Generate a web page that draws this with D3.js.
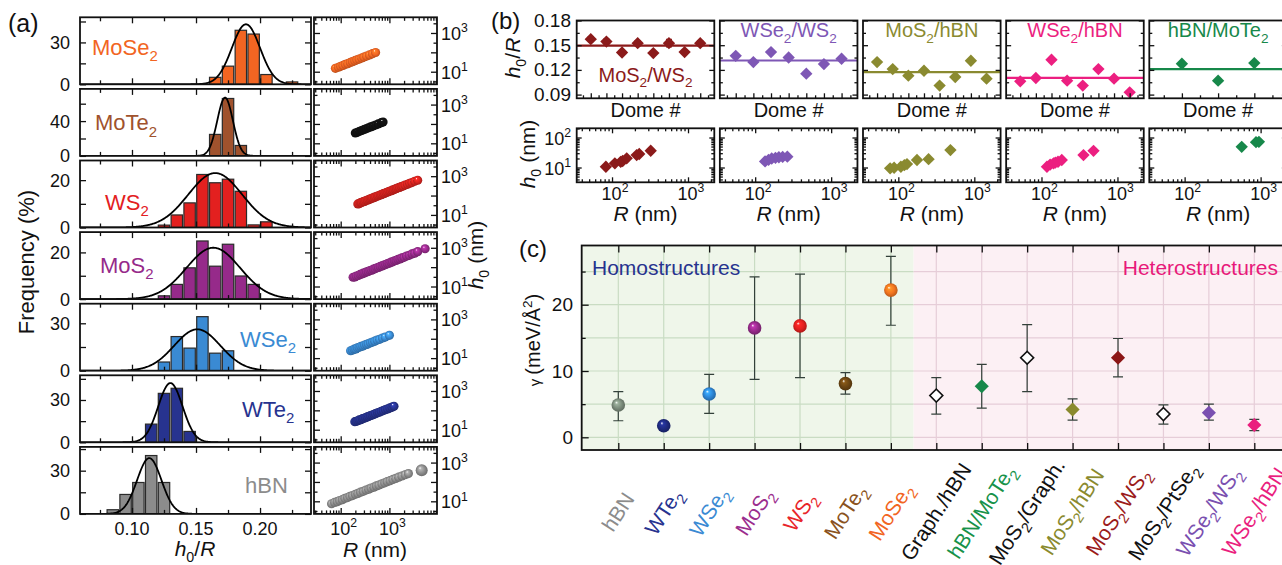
<!DOCTYPE html>
<html><head><meta charset="utf-8">
<script src="https://cdn.jsdelivr.net/npm/d3@7"></script>
<style>
body{margin:0;background:#fff;}
svg{display:block;font-family:"Liberation Sans",Arial,sans-serif;}
</style></head><body>
<svg id="fig" width="1282" height="565"></svg>
<script>
// ===== (a) h0/R histograms with Gaussian fits =====
const histNames  = ["MoSe_2","MoTe_2","WS_2","MoS_2","WSe_2","WTe_2","hBN"];
const histColors = ["#f26522","#a0522d","#e3201f","#962a8a","#3a8ad3","#27338f","#8c8c8c"];
const histBinWidth = 0.01;
const binsMoSe2 = [0.16,0.17,0.18,0.19,0.20,0.22];
const freqMoSe2 = [5,13,38.7,36,7,1.7];
const binsMoTe2 = [0.16,0.17,0.18];
const freqMoTe2 = [24.7,66,12];
const binsWS2 = [0.12,0.13,0.14,0.15,0.16,0.17,0.18,0.19,0.20];
const freqWS2 = [1,5.3,10.4,22.4,18.9,20.4,15.3,1.1,2.4];
const binsMoS2 = [0.12,0.13,0.14,0.15,0.16,0.17,0.18,0.19];
const freqMoS2 = [1.4,6.3,13.4,24.9,14.1,23.5,9.9,6.3];
const binsWSe2 = [0.12,0.13,0.14,0.15,0.16,0.17];
const freqWSe2 = [5.5,21.6,14.3,34.2,11.1,12.6];
const binsWTe2 = [0.11,0.12,0.13,0.14];
const freqWTe2 = [12.9,34.7,38.3,7.7];
const binsHBN = [0.08,0.09,0.10,0.11,0.12];
const freqHBN = [2.9,13.5,21.8,40.5,21.8];
// Gaussian fit parameters (centre, width, peak height in %)
const fitCenter = [0.189,0.1727,0.165,0.1635,0.151,0.130,0.1135];
const fitSigma  = [0.011,0.0061,0.021,0.021,0.018,0.0095,0.0095];
const fitPeak   = [43,67,23,22,26.2,42,38.7];
const histYMax    = [48,77,28.3,28.7,42.4,47.5,46.5];
const histYStep   = [15,20,10,10,15,15,15];
const histYLabels = [[0,30],[0,40],[0,20],[0,20],[0,30],[0,30],[0,30]];
const histXLabels = [0.10,0.15,0.20];

// ===== (a) h0 versus R =====
const scatterColors = ["#f26522","#111111","#d8231f","#962a8a","#3a8ad3","#27338f","#8c8c8c"];
const rMoSe2  = [78,90,100,112,125,140,158,175,195,215,240,270,300,340,390,450,520];
const h0MoSe2 = [15,17,19,21,24,26,30,33,37,41,45,51,57,64,74,85,98];
const rMoTe2  = [200,220,245,270,300,330,370,410,460,520,590,680,740];
const h0MoTe2 = [34,37,42,46,51,56,63,70,78,88,100,116,126];
const rWS2  = [225,240,255,270,290,310,330,355,380,405,430,460,495,530,570,610,655,700,750,805,860,925,990,1060,1140,1220,1310,1400,1500,1620,1750,1900,2100,2350,2600,2900,3300,3800];
const h0WS2 = [37,38,43,44,48,50,55,58,63,66,72,75,82,86,95,100,108,114,125,131,143,151,165,172,190,198,218,228,250,262,290,308,348,380,432,470,548,615];
const rMoS2  = [180,195,210,230,250,270,290,315,340,370,400,435,470,510,555,600,650,710,770,840,910,990,1080,1170,1270,1380,1500,1650,1800,2000,2250,2550,2900,3300,3800,5400];
const h0MoS2 = [30,31,35,37,42,44,49,51,57,60,67,70,79,83,93,97,109,115,129,136,152,160,180,189,212,222,250,266,300,322,374,410,482,530,630,890];
const rWSe2  = [160,175,190,205,220,240,260,285,310,340,370,410,450,500,560,630,720,820,1000];
const h0WSe2 = [24,26,29,30,34,36,40,42,47,51,55,62,67,75,85,93,109,122,150];
const rWTe2  = [195,210,225,240,260,280,300,325,350,380,410,445,480,520,570,620,680,750,830,920,1020,1130,1240];
const h0WTe2 = [26,27,29,32,33,37,39,42,46,49,54,57,63,67,75,80,89,97,109,119,134,146,162];
const rHBN  = [65,75,85,95,108,122,138,155,175,200,225,255,290,330,375,420,480,540,610,700,800,900,1030,1180,1350,1550,1800,2100,2450,4600];
const h0HBN = [7.5,8.8,9.6,11,12.2,14.3,15.6,18,19.8,23,25.5,29.5,32.8,38,42.5,48.5,54,62,69,80,90,103,116,135,152,176,203,236,270,400];

// ===== (b) heterostructure domes =====
const heteroNames  = ["MoS_2/WS_2","WSe_2/WS_2","MoS_2/hBN","WSe_2/hBN","hBN/MoTe_2"];
const heteroColors = ["#8b1a1a","#7e57b5","#8a8a30","#ec1f80","#17884a"];
const ratioMoS2WS2  = [0.1573,0.1544,0.1411,0.1525,0.1404,0.1525,0.1416,0.1525];
const errMoS2WS2    = [0.003,0.003,0.002,0.003,0.002,0.0045,0.002,0.003];
const ratioWSe2WS2  = [0.1371,0.1295,0.1416,0.1351,0.1154,0.1271,0.1335];
const ratioMoS2hBN  = [0.1295,0.1210,0.1130,0.1190,0.1009,0.1114,0.1311,0.1093];
const ratioWSe2hBN  = [0.1061,0.1102,0.1323,0.1069,0.1009,0.1210,0.1093,0.0928];
const ratioHBNMoTe2 = [0.1275,0.1069,0.1283];
const meanRatio = [0.1496,0.1314,0.1174,0.1102,0.1210];
const ratioTicks = [0.09,0.12,0.15,0.18];
const rHMoS2WS2  = [83,109,130,138,156,211,228,323];
const hHMoS2WS2  = [10.6,13.8,15.5,16.5,20.2,26,28.2,36.3];
const rHWSe2WS2  = [135,150,165,185,205,230,265];
const hHWSe2WS2  = [16,18,20,21,22,22.5,23];
const rHMoS2hBN  = [78,88,108,120,130,176,250,485];
const hHMoS2hBN  = [9.4,9.8,10.6,12,13,17.8,19,38];
const rHWSe2hBN  = [118,130,144,152,165,185,357,484];
const hHWSe2hBN  = [10.6,12.5,13.8,14.5,15.6,17.8,26,36];
const rHHBNMoTe2 = [564,870,950];
const hHHBNMoTe2 = [49,70,72];

// ===== (c) adhesion energy =====
const gammaCategories = ["hBN","WTe_2","WSe_2","MoS_2","WS_2","MoTe_2","MoSe_2","Graph./hBN","hBN/MoTe_2","MoS_2/Graph.","MoS_2/hBN","MoS_2/WS_2","MoS_2/PtSe_2","WSe_2/WS_2","WSe_2/hBN"];
const gammaValue = [4.87,1.75,6.53,16.5,16.8,8.1,22.2,6.3,7.7,12.0,4.2,12.0,3.5,3.7,1.85];
const gammaLow   = [2.5,1.4,3.6,8.75,9.0,6.5,16.9,3.5,4.4,6.9,2.6,9.1,2.0,2.6,1.0];
const gammaHigh  = [6.9,2.1,9.5,24.2,24.6,9.75,27.3,9.0,11.0,17.0,5.8,14.9,4.9,5.0,2.7];
const gammaMarker = ["sphere","sphere","sphere","sphere","sphere","sphere","sphere","open","filled","open","filled","filled","open","filled","filled"];
const gammaColors = ["#7b8b7b","#1e2a7e","#2d86d6","#962a8a","#e3201f","#6b4512","#f2741f","#000","#17884a","#000","#8a8a2e","#8c1616","#000","#7a50b0","#ea1e7e"];
const gammaLabelColors = ["#8c8c8c","#27338f","#3a8ad3","#9b2d8e","#e8262a","#8a5220","#f26522","#111","#17924a","#111","#8a8a2e","#9b1b1b","#111","#7a50b0","#ea1e7e"];
const gammaTicks = [0,10,20];

// ---------- helpers ----------
const svg = d3.select('#fig');
const defs = svg.append('defs');
let gradN = 0;
function sphereFill(color){
  const id = 'sph' + (gradN++);
  const c = d3.color(color);
  const g = defs.append('radialGradient').attr('id', id)
    .attr('cx','50%').attr('cy','50%').attr('r','55%').attr('fx','35%').attr('fy','30%');
  g.append('stop').attr('offset','0%').attr('stop-color','#ffffff');
  g.append('stop').attr('offset','20%').attr('stop-color', c.brighter(0.7).formatHex());
  g.append('stop').attr('offset','60%').attr('stop-color', color);
  g.append('stop').attr('offset','100%').attr('stop-color', c.darker(0.9).formatHex());
  return `url(#${id})`;
}
// "_x" subscript, "^x" superscript, "~" toggles italic
function rich(sel, str, fs){
  let italic = false, buf = '', shift = 0;
  const flush = () => {
    if (buf) {
      sel.append('tspan').attr('dy', -shift).attr('font-size', fs)
        .attr('font-style', italic ? 'italic' : null).text(buf);
      shift = 0; buf = '';
    }
  };
  for (let i = 0; i < str.length; i++) {
    const c = str[i];
    if (c === '~') { flush(); italic = !italic; continue; }
    if ((c === '_' || c === '^') && i + 1 < str.length) {
      flush();
      const target = c === '_' ? 0.28 * fs : -0.42 * fs;
      sel.append('tspan').attr('dy', target - shift).attr('font-size', fs * 0.68)
        .attr('font-style', italic ? 'italic' : null).text(str[i + 1]);
      shift = target; i++; continue;
    }
    buf += c;
  }
  flush();
  return sel;
}
function label(g, x, y, str, fs, color, anchor, rot){
  const t = g.append('text').attr('fill', color || '#111').attr('text-anchor', anchor || 'start');
  if (rot) t.attr('transform', `translate(${x},${y}) rotate(${rot})`);
  else t.attr('x', x).attr('y', y);
  return rich(t, str, fs);
}
function ticks(g, scale, orient, pos, values, len){
  const mk = {bottom: d3.axisBottom, top: d3.axisTop, left: d3.axisLeft, right: d3.axisRight}[orient];
  const ax = mk(scale).tickValues(values).tickSize(-len).tickFormat('');
  const tr = (orient === 'bottom' || orient === 'top') ? `translate(0,${pos})` : `translate(${pos},0)`;
  const a = g.append('g').attr('transform', tr).call(ax);
  a.select('.domain').remove();
  a.selectAll('line').attr('stroke', '#111').attr('stroke-width', 1.3);
}
function frame(g, x, y, w, h){
  g.append('rect').attr('x', x).attr('y', y).attr('width', w).attr('height', h)
    .attr('fill', 'none').attr('stroke', '#111').attr('stroke-width', 1.8);
}
function clip(id, x, y, w, h){
  defs.append('clipPath').attr('id', id).append('rect')
    .attr('x', x).attr('y', y).attr('width', w).attr('height', h);
  return `url(#${id})`;
}
const diamond = s => d3.symbol(d3.symbolSquare, s);

// ---------- panel (a) ----------
const gA = svg.append('g');
label(gA, 8, 32, '(a)', 25, '#111');
const histBins = [binsMoSe2, binsMoTe2, binsWS2, binsMoS2, binsWSe2, binsWTe2, binsHBN];
const histFreq = [freqMoSe2, freqMoTe2, freqWS2, freqMoS2, freqWSe2, freqWTe2, freqHBN];
const scatR = [rMoSe2, rMoTe2, rWS2, rMoS2, rWSe2, rWTe2, rHBN];
const scatH = [h0MoSe2, h0MoTe2, h0WS2, h0MoS2, h0WSe2, h0WTe2, h0HBN];
const rowTop = i => 17.3 + 71.6 * i, rowH = 67;
const hx = d3.scaleLinear().domain([0.0594, 0.2398]).range([80, 311]);
const sx = d3.scaleLog().domain([Math.pow(10, 1.452), Math.pow(10, 3.977)]).range([314, 437]);
const histLabelPos = [[92,37.7],[95,41.5],[105,49.5],[100,40.6],[240,43],[242,41.4],[245,45.8]];
const xMinor = [30,40,50,60,70,80,90,200,300,400,500,600,700,800,900,2000,3000,4000,5000,6000,7000,8000,9000];

histNames.forEach((name, i) => {
  const top = rowTop(i), bot = top + rowH;
  const y = d3.scaleLinear().domain([0, histYMax[i]]).range([bot, top]);
  const pg = gA.append('g').attr('clip-path', clip('hc' + i, 80, top, 231, rowH));
  pg.selectAll('rect').data(d3.zip(histBins[i], histFreq[i])).join('rect')
    .attr('x', d => hx(d[0]) + 0.7)
    .attr('width', d => hx(d[0] + histBinWidth) - hx(d[0]) - 1.4)
    .attr('y', d => y(d[1])).attr('height', d => bot - y(d[1]))
    .attr('fill', histColors[i]).attr('stroke', '#2a2a2a').attr('stroke-width', 1.2);
  const xs = d3.range(0.055, 0.245, 0.0005);
  pg.append('path')
    .attr('d', d3.line().x(v => hx(v))
      .y(v => y(fitPeak[i] * Math.exp(-0.5 * Math.pow((v - fitCenter[i]) / fitSigma[i], 2))))(xs))
    .attr('fill', 'none').attr('stroke', '#000').attr('stroke-width', 1.8);
  const xMaj = [0.10, 0.15, 0.20], xMin = [0.075, 0.125, 0.175, 0.225];
  ticks(gA, hx, 'bottom', bot, xMaj, 6); ticks(gA, hx, 'bottom', bot, xMin, 4);
  ticks(gA, hx, 'top', top, xMaj, 6); ticks(gA, hx, 'top', top, xMin, 4);
  const yv = d3.range(0, histYMax[i], histYStep[i]);
  ticks(gA, y, 'left', 80, yv, 6); ticks(gA, y, 'right', 311, yv, 6);
  frame(gA, 80, top, 231, rowH);
  histYLabels[i].forEach(v => label(gA, 70, y(v) + 6.5, String(v), 18, '#111', 'end'));
  label(gA, histLabelPos[i][0], top + histLabelPos[i][1], name, 22, histColors[i]);

  // h0 vs R
  const sy = d3.scaleLog().domain([Math.pow(10, 0.35), Math.pow(10, 3.81)]).range([bot, top]);
  const sg = gA.append('g').attr('clip-path', clip('sc' + i, 314, top, 123, rowH));
  const fill = sphereFill(scatterColors[i]);
  sg.selectAll('circle').data(d3.zip(scatR[i], scatH[i])).join('circle')
    .attr('cx', d => sx(d[0])).attr('cy', d => sy(d[1]))
    .attr('r', (d, k) => (i === 6 && k === scatR[i].length - 1) ? 6 : 4.6)
    .attr('fill', fill);
  ticks(gA, sx, 'bottom', bot, [100, 1000], 6); ticks(gA, sx, 'bottom', bot, xMinor, 3.5);
  ticks(gA, sx, 'top', top, [100, 1000], 6); ticks(gA, sx, 'top', top, xMinor, 3.5);
  const yMaj = [10, 100, 1000], yMin = [Math.pow(10, 0.5), Math.pow(10, 1.5), Math.pow(10, 2.5), Math.pow(10, 3.5)];
  ticks(gA, sy, 'left', 314, yMaj, 6); ticks(gA, sy, 'left', 314, yMin, 3.5);
  ticks(gA, sy, 'right', 437, yMaj, 6); ticks(gA, sy, 'right', 437, yMin, 3.5);
  frame(gA, 314, top, 123, rowH);
  label(gA, 441, sy(1000) + 7, '10^3', 18, '#111');
  label(gA, 441, sy(10) + 7, '10^1', 18, '#111');
});
histXLabels.forEach(v => label(gA, hx(v), 535, v.toFixed(2), 18, '#111', 'middle'));
[100, 1000].forEach((v, k) => label(gA, sx(v) + 3, 535, k ? '10^3' : '10^2', 18, '#111', 'middle'));
label(gA, 195, 556, '~h~_0/~R~', 21, '#111', 'middle');
label(gA, 375, 557, '~R~ (nm)', 21, '#111', 'middle');
label(gA, 34, 262, 'Frequency (%)', 22, '#111', 'middle', -90);
label(gA, 483, 255, '~h~_0 (nm)', 21, '#111', 'middle', -90);

// ---------- panel (b) ----------
const gB = svg.append('g');
label(gB, 491, 29, '(b)', 24, '#111');
const domeRatios = [ratioMoS2WS2, ratioWSe2WS2, ratioMoS2hBN, ratioWSe2hBN, ratioHBNMoTe2];
const domeErr = [errMoS2WS2, null, null, null, null];
const heteroR = [rHMoS2WS2, rHWSe2WS2, rHMoS2hBN, rHWSe2hBN, rHHBNMoTe2];
const heteroH = [hHMoS2WS2, hHWSe2WS2, hHMoS2hBN, hHWSe2hBN, hHHBNMoTe2];
const bw = 137.6, bTop = 20.5, bBot = 98.3, lTop = 128.3, lBot = 182.3;
const by = d3.scaleLinear().domain([0.0855, 0.18]).range([bBot, bTop]);
const ly = d3.scaleLog().domain([Math.pow(10, 0.507), Math.pow(10, 2.307)]).range([lBot, lTop]);
const bNameY = [81.7, 37, 37, 37, 37];
heteroNames.forEach((name, p) => {
  const left = 576.7 + 143.15 * p, n = domeRatios[p].length;
  const col = heteroColors[p];
  const bx = d3.scaleLinear().domain([0.1, n + 0.9]).range([left, left + bw]);
  const pg = gB.append('g').attr('clip-path', clip('bc' + p, left, bTop, bw, bBot - bTop));
  pg.append('line').attr('x1', left).attr('x2', left + bw)
    .attr('y1', by(meanRatio[p])).attr('y2', by(meanRatio[p]))
    .attr('stroke', col).attr('stroke-width', 2.2);
  const pts = domeRatios[p].map((v, k) => ({d: k + 1, v, e: domeErr[p] ? domeErr[p][k] : 0}));
  pts.filter(q => q.e > 0).forEach(q => {
    const x = bx(q.d);
    pg.append('path').attr('d', `M${x},${by(q.v - q.e)}V${by(q.v + q.e)}M${x - 3},${by(q.v - q.e)}H${x + 3}M${x - 3},${by(q.v + q.e)}H${x + 3}`)
      .attr('stroke', col).attr('stroke-width', 1.2).attr('fill', 'none');
  });
  pg.selectAll('path.m').data(pts).join('path').attr('class', 'm')
    .attr('d', diamond(76))
    .attr('transform', q => `translate(${bx(q.d)},${by(q.v)}) rotate(45)`)
    .attr('fill', col);
  const maj = d3.range(1, n + 1), min = d3.range(0.5, n + 1, 1);
  ticks(gB, bx, 'bottom', bBot, maj, 5); ticks(gB, bx, 'bottom', bBot, min, 3);
  ticks(gB, by, 'left', left, ratioTicks, 5); ticks(gB, by, 'left', left, [0.105, 0.135, 0.165], 3);
  ticks(gB, by, 'right', left + bw, ratioTicks, 5); ticks(gB, by, 'right', left + bw, [0.105, 0.135, 0.165], 3);
  frame(gB, left, bTop, bw, bBot - bTop);
  label(gB, left + bw / 2, bNameY[p], name, 20, col, 'middle');
  label(gB, left + bw / 2, 117, 'Dome #', 20, '#111', 'middle');

  // h0 vs R
  const lx = d3.scaleLog().domain([Math.pow(10, 1.535), Math.pow(10, 3.346)]).range([left, left + bw]);
  const lg = gB.append('g').attr('clip-path', clip('lc' + p, left, lTop, bw, lBot - lTop));
  lg.selectAll('path').data(d3.zip(heteroR[p], heteroH[p])).join('path')
    .attr('d', diamond(76))
    .attr('transform', d => `translate(${lx(d[0])},${ly(d[1])}) rotate(45)`)
    .attr('fill', col);
  const lxMin = [40, 50, 60, 70, 80, 90, 200, 300, 400, 500, 600, 700, 800, 900, 2000];
  ticks(gB, lx, 'bottom', lBot, [100, 1000], 5); ticks(gB, lx, 'bottom', lBot, lxMin, 3);
  ticks(gB, lx, 'top', lTop, [100, 1000], 5); ticks(gB, lx, 'top', lTop, lxMin, 3);
  const lyMin = [4, 5, 6, 7, 8, 9, 20, 30, 40, 50, 60, 70, 80, 90, 200];
  ticks(gB, ly, 'left', left, [10, 100], 5); ticks(gB, ly, 'left', left, lyMin, 3);
  ticks(gB, ly, 'right', left + bw, [10, 100], 5); ticks(gB, ly, 'right', left + bw, lyMin, 3);
  frame(gB, left, lTop, bw, lBot - lTop);
  label(gB, lx(100) + 3, 200, '10^2', 18, '#111', 'middle');
  label(gB, lx(1000) + 3, 200, '10^3', 18, '#111', 'middle');
  label(gB, left + bw / 2, 221, '~R~ (nm)', 21, '#111', 'middle');
  if (p === 0) {
    ratioTicks.forEach(v => label(gB, 571, by(v) + 6.5, v.toFixed(2), 19, '#111', 'end'));
    label(gB, 571, ly(100) + 7, '10^2', 18, '#111', 'end');
    label(gB, 571, ly(10) + 7, '10^1', 18, '#111', 'end');
  }
});
label(gB, 520, 58, '~h~_0/~R~', 21, '#111', 'middle', -90);
label(gB, 535, 154, '~h~_0 (nm)', 21, '#111', 'middle', -90);

// ---------- panel (c) ----------
const gC = svg.append('g');
label(gC, 519, 257, '(c)', 24, '#111');
const cx = d3.scaleLinear().domain([0, 14]).range([618.3, 1254.3]);
const cy = d3.scaleLinear().domain([-1.915, 28.93]).range([450, 245.5]);
const cL = cx(-0.806), cR = cx(14.806), cB = cx(6.5), cT = cy(28.93), cBot = cy(-1.915);
gC.append('rect').attr('x', cL).attr('y', cT).attr('width', cB - cL).attr('height', cBot - cT).attr('fill', '#eff6ea');
gC.append('rect').attr('x', cB).attr('y', cT).attr('width', cR - cB).attr('height', cBot - cT).attr('fill', '#fcf0f4');
const gridY = [0, 5, 10, 15, 20, 25];
[[cL, cB, '#c9dcc3'], [cB, cR, '#e6cdd8']].forEach(([a, b, c]) => {
  gC.selectAll(null).data(gridY).join('line')
    .attr('x1', a).attr('x2', b).attr('y1', d => cy(d)).attr('y2', d => cy(d))
    .attr('stroke', c).attr('stroke-width', 1.2);
});
gC.selectAll(null).data(gammaCategories).join('line')
  .attr('x1', (d, i) => cx(i)).attr('x2', (d, i) => cx(i)).attr('y1', cT).attr('y2', cBot)
  .attr('stroke', (d, i) => i < 7 ? '#c9dcc3' : '#e6cdd8').attr('stroke-width', 1.2);
label(gC, 592, 275, 'Homostructures', 21, '#27338f');
label(gC, 1278, 275, 'Heterostructures', 21, '#e8197a', 'end');
const idx = d3.range(gammaCategories.length);
ticks(gC, cx, 'bottom', cBot, idx, 7); ticks(gC, cx, 'top', cT, idx, 7);
ticks(gC, cy, 'left', cL, gammaTicks, 7); ticks(gC, cy, 'left', cL, [5, 15, 25], 4);
ticks(gC, cy, 'right', cR, gammaTicks, 7); ticks(gC, cy, 'right', cR, [5, 15, 25], 4);
// error bars
idx.forEach(i => {
  const x = cx(i), y1 = cy(gammaLow[i]), y2 = cy(gammaHigh[i]);
  gC.append('path').attr('d', `M${x},${y1}V${y2}M${x - 5},${y1}H${x + 5}M${x - 5},${y2}H${x + 5}`)
    .attr('stroke', '#33403a').attr('stroke-width', 1.2).attr('fill', 'none');
});
idx.forEach(i => {
  const x = cx(i), y = cy(gammaValue[i]);
  if (gammaMarker[i] === 'sphere') {
    gC.append('circle').attr('cx', x).attr('cy', y).attr('r', 6.8).attr('fill', sphereFill(gammaColors[i]));
  } else {
    const open = gammaMarker[i] === 'open';
    gC.append('path').attr('d', diamond(open ? 84 : 100)).attr('transform', `translate(${x},${y}) rotate(45)`)
      .attr('fill', open ? '#fff' : gammaColors[i])
      .attr('stroke', open ? '#111' : 'none').attr('stroke-width', 1.6);
  }
});
gC.append('rect').attr('x', cL).attr('y', cT).attr('width', cR - cL).attr('height', cBot - cT)
  .attr('fill', 'none').attr('stroke', '#111').attr('stroke-width', 1.8);
gammaTicks.forEach(v => label(gC, 573, cy(v) + 6.5, String(v), 19, '#111', 'end'));
const yl = gC.append('text').attr('text-anchor', 'middle').attr('fill', '#111')
  .attr('transform', 'translate(540,340) rotate(-90)');
yl.append('tspan').attr('font-size', 15).text('\u03b3 ');
rich(yl, '(meV/\u00c5^2)', 20);
// rotated category labels
gammaCategories.forEach((name, i) => {
  const t = gC.append('text').attr('text-anchor', 'middle').attr('fill', gammaLabelColors[i])
    .attr('transform', `translate(${cx(i)},512) rotate(-57)`).attr('y', 7);
  rich(t, name, 21);
});
</script>
</body></html>
